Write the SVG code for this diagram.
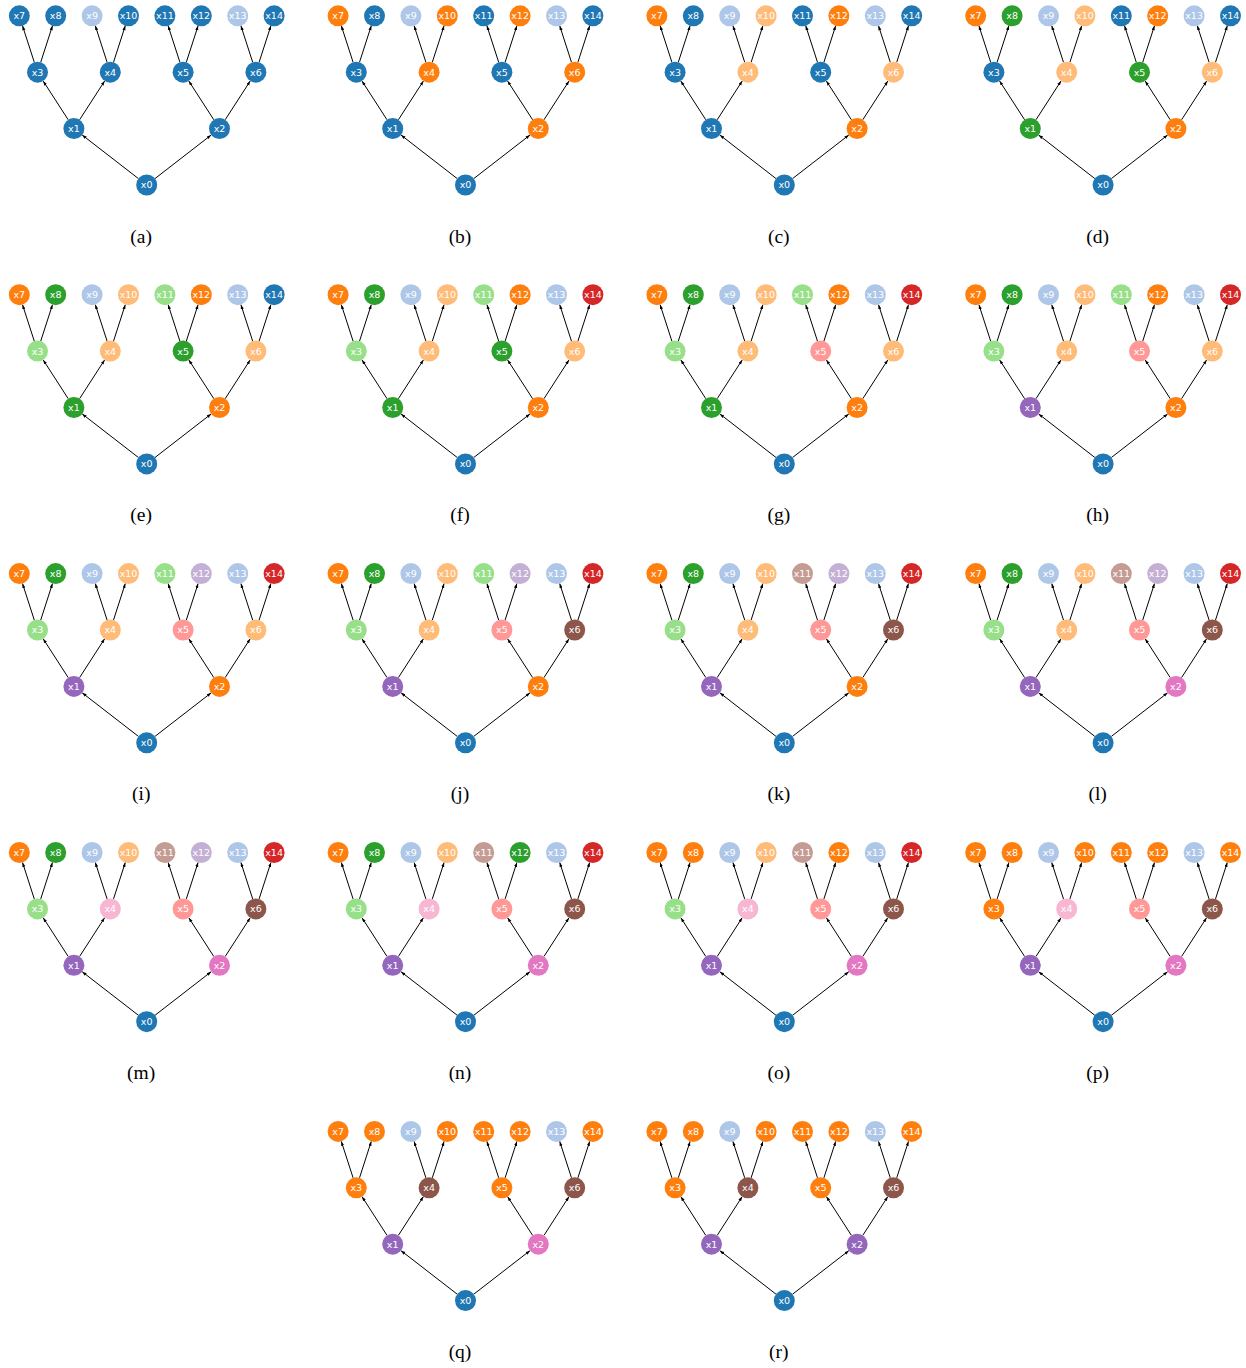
<svg xmlns="http://www.w3.org/2000/svg" width="1246" height="1368" viewBox="0 0 1246 1368">
<style>
.edges line{stroke:#000;stroke-width:1;marker-end:url(#ah)}
.nd circle{stroke:none}
.nd text{fill:#fff;font-family:"DejaVu Sans",sans-serif;font-size:9.5px;text-anchor:middle}
.cap{font-family:"Liberation Serif",serif;font-size:19.5px;text-anchor:middle;fill:#000}
.B{fill:#1f77b4}.b{fill:#aec7e8}.O{fill:#ff7f0e}.o{fill:#ffbb78}.G{fill:#2ca02c}.g{fill:#98df8a}.R{fill:#d62728}.r{fill:#ff9896}.P{fill:#9467bd}.p{fill:#c5b0d5}.N{fill:#8c564b}.n{fill:#c49c94}.K{fill:#e377c2}.k{fill:#f7b6d2}
</style>
<defs>
<marker id="ah" markerWidth="6" markerHeight="5" refX="4.5" refY="1.6" orient="auto" markerUnits="userSpaceOnUse"><path d="M0,0 L4.5,1.6 L0,3.2 z" fill="#000"/></marker>
</defs>
<rect width="1246" height="1368" fill="#fff"/>

<g id="panel-a" transform="translate(146.7,185)">
<g id="a-edges" class="edges">
<line x1="-8.3" y1="-6.43" x2="-64.5" y2="-49.97"/><line x1="8.3" y1="-6.43" x2="64.5" y2="-49.97"/>
<line x1="-78.49" y1="-65.22" x2="-103.51" y2="-103.98"/><line x1="-67.11" y1="-65.22" x2="-42.09" y2="-103.98"/>
<line x1="67.11" y1="-65.22" x2="42.09" y2="-103.98"/><line x1="78.49" y1="-65.22" x2="103.51" y2="-103.98"/>
<line x1="-112.42" y1="-122.79" x2="-124.18" y2="-159.21"/><line x1="-105.98" y1="-122.79" x2="-94.22" y2="-159.21"/>
<line x1="-39.62" y1="-122.79" x2="-51.38" y2="-159.21"/><line x1="-33.18" y1="-122.79" x2="-21.42" y2="-159.21"/>
<line x1="33.18" y1="-122.79" x2="21.42" y2="-159.21"/><line x1="39.62" y1="-122.79" x2="51.38" y2="-159.21"/>
<line x1="105.98" y1="-122.79" x2="94.22" y2="-159.21"/><line x1="112.42" y1="-122.79" x2="124.18" y2="-159.21"/>
</g>
<g class="nd">
<g id="a-x0" class="B" transform="translate(0,0)"><circle r="10.5"/><text y="3.4">x0</text></g>
<g id="a-x1" class="B" transform="translate(-72.8,-56.4)"><circle r="10.5"/><text y="3.4">x1</text></g>
<g id="a-x2" class="B" transform="translate(72.8,-56.4)"><circle r="10.5"/><text y="3.4">x2</text></g>
<g id="a-x3" class="B" transform="translate(-109.2,-112.8)"><circle r="10.5"/><text y="3.4">x3</text></g>
<g id="a-x4" class="B" transform="translate(-36.4,-112.8)"><circle r="10.5"/><text y="3.4">x4</text></g>
<g id="a-x5" class="B" transform="translate(36.4,-112.8)"><circle r="10.5"/><text y="3.4">x5</text></g>
<g id="a-x6" class="B" transform="translate(109.2,-112.8)"><circle r="10.5"/><text y="3.4">x6</text></g>
<g id="a-x7" class="B" transform="translate(-127.4,-169.2)"><circle r="10.5"/><text y="3.4">x7</text></g>
<g id="a-x8" class="B" transform="translate(-91,-169.2)"><circle r="10.5"/><text y="3.4">x8</text></g>
<g id="a-x9" class="b" transform="translate(-54.6,-169.2)"><circle r="10.5"/><text y="3.4">x9</text></g>
<g id="a-x10" class="B" transform="translate(-18.2,-169.2)"><circle r="10.5"/><text y="3.4">x10</text></g>
<g id="a-x11" class="B" transform="translate(18.2,-169.2)"><circle r="10.5"/><text y="3.4">x11</text></g>
<g id="a-x12" class="B" transform="translate(54.6,-169.2)"><circle r="10.5"/><text y="3.4">x12</text></g>
<g id="a-x13" class="b" transform="translate(91,-169.2)"><circle r="10.5"/><text y="3.4">x13</text></g>
<g id="a-x14" class="B" transform="translate(127.4,-169.2)"><circle r="10.5"/><text y="3.4">x14</text></g>
</g>
<text class="cap" x="-5.5" y="57.5">(a)</text>
</g>

<g id="panel-b" transform="translate(465.5,185)">
<g id="b-edges" class="edges">
<line x1="-8.3" y1="-6.43" x2="-64.5" y2="-49.97"/><line x1="8.3" y1="-6.43" x2="64.5" y2="-49.97"/>
<line x1="-78.49" y1="-65.22" x2="-103.51" y2="-103.98"/><line x1="-67.11" y1="-65.22" x2="-42.09" y2="-103.98"/>
<line x1="67.11" y1="-65.22" x2="42.09" y2="-103.98"/><line x1="78.49" y1="-65.22" x2="103.51" y2="-103.98"/>
<line x1="-112.42" y1="-122.79" x2="-124.18" y2="-159.21"/><line x1="-105.98" y1="-122.79" x2="-94.22" y2="-159.21"/>
<line x1="-39.62" y1="-122.79" x2="-51.38" y2="-159.21"/><line x1="-33.18" y1="-122.79" x2="-21.42" y2="-159.21"/>
<line x1="33.18" y1="-122.79" x2="21.42" y2="-159.21"/><line x1="39.62" y1="-122.79" x2="51.38" y2="-159.21"/>
<line x1="105.98" y1="-122.79" x2="94.22" y2="-159.21"/><line x1="112.42" y1="-122.79" x2="124.18" y2="-159.21"/>
</g>
<g class="nd">
<g id="b-x0" class="B" transform="translate(0,0)"><circle r="10.5"/><text y="3.4">x0</text></g>
<g id="b-x1" class="B" transform="translate(-72.8,-56.4)"><circle r="10.5"/><text y="3.4">x1</text></g>
<g id="b-x2" class="O" transform="translate(72.8,-56.4)"><circle r="10.5"/><text y="3.4">x2</text></g>
<g id="b-x3" class="B" transform="translate(-109.2,-112.8)"><circle r="10.5"/><text y="3.4">x3</text></g>
<g id="b-x4" class="O" transform="translate(-36.4,-112.8)"><circle r="10.5"/><text y="3.4">x4</text></g>
<g id="b-x5" class="B" transform="translate(36.4,-112.8)"><circle r="10.5"/><text y="3.4">x5</text></g>
<g id="b-x6" class="O" transform="translate(109.2,-112.8)"><circle r="10.5"/><text y="3.4">x6</text></g>
<g id="b-x7" class="O" transform="translate(-127.4,-169.2)"><circle r="10.5"/><text y="3.4">x7</text></g>
<g id="b-x8" class="B" transform="translate(-91,-169.2)"><circle r="10.5"/><text y="3.4">x8</text></g>
<g id="b-x9" class="b" transform="translate(-54.6,-169.2)"><circle r="10.5"/><text y="3.4">x9</text></g>
<g id="b-x10" class="O" transform="translate(-18.2,-169.2)"><circle r="10.5"/><text y="3.4">x10</text></g>
<g id="b-x11" class="B" transform="translate(18.2,-169.2)"><circle r="10.5"/><text y="3.4">x11</text></g>
<g id="b-x12" class="O" transform="translate(54.6,-169.2)"><circle r="10.5"/><text y="3.4">x12</text></g>
<g id="b-x13" class="b" transform="translate(91,-169.2)"><circle r="10.5"/><text y="3.4">x13</text></g>
<g id="b-x14" class="B" transform="translate(127.4,-169.2)"><circle r="10.5"/><text y="3.4">x14</text></g>
</g>
<text class="cap" x="-5.5" y="57.5">(b)</text>
</g>

<g id="panel-c" transform="translate(784.3,185)">
<g id="c-edges" class="edges">
<line x1="-8.3" y1="-6.43" x2="-64.5" y2="-49.97"/><line x1="8.3" y1="-6.43" x2="64.5" y2="-49.97"/>
<line x1="-78.49" y1="-65.22" x2="-103.51" y2="-103.98"/><line x1="-67.11" y1="-65.22" x2="-42.09" y2="-103.98"/>
<line x1="67.11" y1="-65.22" x2="42.09" y2="-103.98"/><line x1="78.49" y1="-65.22" x2="103.51" y2="-103.98"/>
<line x1="-112.42" y1="-122.79" x2="-124.18" y2="-159.21"/><line x1="-105.98" y1="-122.79" x2="-94.22" y2="-159.21"/>
<line x1="-39.62" y1="-122.79" x2="-51.38" y2="-159.21"/><line x1="-33.18" y1="-122.79" x2="-21.42" y2="-159.21"/>
<line x1="33.18" y1="-122.79" x2="21.42" y2="-159.21"/><line x1="39.62" y1="-122.79" x2="51.38" y2="-159.21"/>
<line x1="105.98" y1="-122.79" x2="94.22" y2="-159.21"/><line x1="112.42" y1="-122.79" x2="124.18" y2="-159.21"/>
</g>
<g class="nd">
<g id="c-x0" class="B" transform="translate(0,0)"><circle r="10.5"/><text y="3.4">x0</text></g>
<g id="c-x1" class="B" transform="translate(-72.8,-56.4)"><circle r="10.5"/><text y="3.4">x1</text></g>
<g id="c-x2" class="O" transform="translate(72.8,-56.4)"><circle r="10.5"/><text y="3.4">x2</text></g>
<g id="c-x3" class="B" transform="translate(-109.2,-112.8)"><circle r="10.5"/><text y="3.4">x3</text></g>
<g id="c-x4" class="o" transform="translate(-36.4,-112.8)"><circle r="10.5"/><text y="3.4">x4</text></g>
<g id="c-x5" class="B" transform="translate(36.4,-112.8)"><circle r="10.5"/><text y="3.4">x5</text></g>
<g id="c-x6" class="o" transform="translate(109.2,-112.8)"><circle r="10.5"/><text y="3.4">x6</text></g>
<g id="c-x7" class="O" transform="translate(-127.4,-169.2)"><circle r="10.5"/><text y="3.4">x7</text></g>
<g id="c-x8" class="B" transform="translate(-91,-169.2)"><circle r="10.5"/><text y="3.4">x8</text></g>
<g id="c-x9" class="b" transform="translate(-54.6,-169.2)"><circle r="10.5"/><text y="3.4">x9</text></g>
<g id="c-x10" class="o" transform="translate(-18.2,-169.2)"><circle r="10.5"/><text y="3.4">x10</text></g>
<g id="c-x11" class="B" transform="translate(18.2,-169.2)"><circle r="10.5"/><text y="3.4">x11</text></g>
<g id="c-x12" class="O" transform="translate(54.6,-169.2)"><circle r="10.5"/><text y="3.4">x12</text></g>
<g id="c-x13" class="b" transform="translate(91,-169.2)"><circle r="10.5"/><text y="3.4">x13</text></g>
<g id="c-x14" class="B" transform="translate(127.4,-169.2)"><circle r="10.5"/><text y="3.4">x14</text></g>
</g>
<text class="cap" x="-5.5" y="57.5">(c)</text>
</g>

<g id="panel-d" transform="translate(1103.1,185)">
<g id="d-edges" class="edges">
<line x1="-8.3" y1="-6.43" x2="-64.5" y2="-49.97"/><line x1="8.3" y1="-6.43" x2="64.5" y2="-49.97"/>
<line x1="-78.49" y1="-65.22" x2="-103.51" y2="-103.98"/><line x1="-67.11" y1="-65.22" x2="-42.09" y2="-103.98"/>
<line x1="67.11" y1="-65.22" x2="42.09" y2="-103.98"/><line x1="78.49" y1="-65.22" x2="103.51" y2="-103.98"/>
<line x1="-112.42" y1="-122.79" x2="-124.18" y2="-159.21"/><line x1="-105.98" y1="-122.79" x2="-94.22" y2="-159.21"/>
<line x1="-39.62" y1="-122.79" x2="-51.38" y2="-159.21"/><line x1="-33.18" y1="-122.79" x2="-21.42" y2="-159.21"/>
<line x1="33.18" y1="-122.79" x2="21.42" y2="-159.21"/><line x1="39.62" y1="-122.79" x2="51.38" y2="-159.21"/>
<line x1="105.98" y1="-122.79" x2="94.22" y2="-159.21"/><line x1="112.42" y1="-122.79" x2="124.18" y2="-159.21"/>
</g>
<g class="nd">
<g id="d-x0" class="B" transform="translate(0,0)"><circle r="10.5"/><text y="3.4">x0</text></g>
<g id="d-x1" class="G" transform="translate(-72.8,-56.4)"><circle r="10.5"/><text y="3.4">x1</text></g>
<g id="d-x2" class="O" transform="translate(72.8,-56.4)"><circle r="10.5"/><text y="3.4">x2</text></g>
<g id="d-x3" class="B" transform="translate(-109.2,-112.8)"><circle r="10.5"/><text y="3.4">x3</text></g>
<g id="d-x4" class="o" transform="translate(-36.4,-112.8)"><circle r="10.5"/><text y="3.4">x4</text></g>
<g id="d-x5" class="G" transform="translate(36.4,-112.8)"><circle r="10.5"/><text y="3.4">x5</text></g>
<g id="d-x6" class="o" transform="translate(109.2,-112.8)"><circle r="10.5"/><text y="3.4">x6</text></g>
<g id="d-x7" class="O" transform="translate(-127.4,-169.2)"><circle r="10.5"/><text y="3.4">x7</text></g>
<g id="d-x8" class="G" transform="translate(-91,-169.2)"><circle r="10.5"/><text y="3.4">x8</text></g>
<g id="d-x9" class="b" transform="translate(-54.6,-169.2)"><circle r="10.5"/><text y="3.4">x9</text></g>
<g id="d-x10" class="o" transform="translate(-18.2,-169.2)"><circle r="10.5"/><text y="3.4">x10</text></g>
<g id="d-x11" class="B" transform="translate(18.2,-169.2)"><circle r="10.5"/><text y="3.4">x11</text></g>
<g id="d-x12" class="O" transform="translate(54.6,-169.2)"><circle r="10.5"/><text y="3.4">x12</text></g>
<g id="d-x13" class="b" transform="translate(91,-169.2)"><circle r="10.5"/><text y="3.4">x13</text></g>
<g id="d-x14" class="B" transform="translate(127.4,-169.2)"><circle r="10.5"/><text y="3.4">x14</text></g>
</g>
<text class="cap" x="-5.5" y="57.5">(d)</text>
</g>

<g id="panel-e" transform="translate(146.7,463.9)">
<g id="e-edges" class="edges">
<line x1="-8.3" y1="-6.43" x2="-64.5" y2="-49.97"/><line x1="8.3" y1="-6.43" x2="64.5" y2="-49.97"/>
<line x1="-78.49" y1="-65.22" x2="-103.51" y2="-103.98"/><line x1="-67.11" y1="-65.22" x2="-42.09" y2="-103.98"/>
<line x1="67.11" y1="-65.22" x2="42.09" y2="-103.98"/><line x1="78.49" y1="-65.22" x2="103.51" y2="-103.98"/>
<line x1="-112.42" y1="-122.79" x2="-124.18" y2="-159.21"/><line x1="-105.98" y1="-122.79" x2="-94.22" y2="-159.21"/>
<line x1="-39.62" y1="-122.79" x2="-51.38" y2="-159.21"/><line x1="-33.18" y1="-122.79" x2="-21.42" y2="-159.21"/>
<line x1="33.18" y1="-122.79" x2="21.42" y2="-159.21"/><line x1="39.62" y1="-122.79" x2="51.38" y2="-159.21"/>
<line x1="105.98" y1="-122.79" x2="94.22" y2="-159.21"/><line x1="112.42" y1="-122.79" x2="124.18" y2="-159.21"/>
</g>
<g class="nd">
<g id="e-x0" class="B" transform="translate(0,0)"><circle r="10.5"/><text y="3.4">x0</text></g>
<g id="e-x1" class="G" transform="translate(-72.8,-56.4)"><circle r="10.5"/><text y="3.4">x1</text></g>
<g id="e-x2" class="O" transform="translate(72.8,-56.4)"><circle r="10.5"/><text y="3.4">x2</text></g>
<g id="e-x3" class="g" transform="translate(-109.2,-112.8)"><circle r="10.5"/><text y="3.4">x3</text></g>
<g id="e-x4" class="o" transform="translate(-36.4,-112.8)"><circle r="10.5"/><text y="3.4">x4</text></g>
<g id="e-x5" class="G" transform="translate(36.4,-112.8)"><circle r="10.5"/><text y="3.4">x5</text></g>
<g id="e-x6" class="o" transform="translate(109.2,-112.8)"><circle r="10.5"/><text y="3.4">x6</text></g>
<g id="e-x7" class="O" transform="translate(-127.4,-169.2)"><circle r="10.5"/><text y="3.4">x7</text></g>
<g id="e-x8" class="G" transform="translate(-91,-169.2)"><circle r="10.5"/><text y="3.4">x8</text></g>
<g id="e-x9" class="b" transform="translate(-54.6,-169.2)"><circle r="10.5"/><text y="3.4">x9</text></g>
<g id="e-x10" class="o" transform="translate(-18.2,-169.2)"><circle r="10.5"/><text y="3.4">x10</text></g>
<g id="e-x11" class="g" transform="translate(18.2,-169.2)"><circle r="10.5"/><text y="3.4">x11</text></g>
<g id="e-x12" class="O" transform="translate(54.6,-169.2)"><circle r="10.5"/><text y="3.4">x12</text></g>
<g id="e-x13" class="b" transform="translate(91,-169.2)"><circle r="10.5"/><text y="3.4">x13</text></g>
<g id="e-x14" class="B" transform="translate(127.4,-169.2)"><circle r="10.5"/><text y="3.4">x14</text></g>
</g>
<text class="cap" x="-5.5" y="57.5">(e)</text>
</g>

<g id="panel-f" transform="translate(465.5,463.9)">
<g id="f-edges" class="edges">
<line x1="-8.3" y1="-6.43" x2="-64.5" y2="-49.97"/><line x1="8.3" y1="-6.43" x2="64.5" y2="-49.97"/>
<line x1="-78.49" y1="-65.22" x2="-103.51" y2="-103.98"/><line x1="-67.11" y1="-65.22" x2="-42.09" y2="-103.98"/>
<line x1="67.11" y1="-65.22" x2="42.09" y2="-103.98"/><line x1="78.49" y1="-65.22" x2="103.51" y2="-103.98"/>
<line x1="-112.42" y1="-122.79" x2="-124.18" y2="-159.21"/><line x1="-105.98" y1="-122.79" x2="-94.22" y2="-159.21"/>
<line x1="-39.62" y1="-122.79" x2="-51.38" y2="-159.21"/><line x1="-33.18" y1="-122.79" x2="-21.42" y2="-159.21"/>
<line x1="33.18" y1="-122.79" x2="21.42" y2="-159.21"/><line x1="39.62" y1="-122.79" x2="51.38" y2="-159.21"/>
<line x1="105.98" y1="-122.79" x2="94.22" y2="-159.21"/><line x1="112.42" y1="-122.79" x2="124.18" y2="-159.21"/>
</g>
<g class="nd">
<g id="f-x0" class="B" transform="translate(0,0)"><circle r="10.5"/><text y="3.4">x0</text></g>
<g id="f-x1" class="G" transform="translate(-72.8,-56.4)"><circle r="10.5"/><text y="3.4">x1</text></g>
<g id="f-x2" class="O" transform="translate(72.8,-56.4)"><circle r="10.5"/><text y="3.4">x2</text></g>
<g id="f-x3" class="g" transform="translate(-109.2,-112.8)"><circle r="10.5"/><text y="3.4">x3</text></g>
<g id="f-x4" class="o" transform="translate(-36.4,-112.8)"><circle r="10.5"/><text y="3.4">x4</text></g>
<g id="f-x5" class="G" transform="translate(36.4,-112.8)"><circle r="10.5"/><text y="3.4">x5</text></g>
<g id="f-x6" class="o" transform="translate(109.2,-112.8)"><circle r="10.5"/><text y="3.4">x6</text></g>
<g id="f-x7" class="O" transform="translate(-127.4,-169.2)"><circle r="10.5"/><text y="3.4">x7</text></g>
<g id="f-x8" class="G" transform="translate(-91,-169.2)"><circle r="10.5"/><text y="3.4">x8</text></g>
<g id="f-x9" class="b" transform="translate(-54.6,-169.2)"><circle r="10.5"/><text y="3.4">x9</text></g>
<g id="f-x10" class="o" transform="translate(-18.2,-169.2)"><circle r="10.5"/><text y="3.4">x10</text></g>
<g id="f-x11" class="g" transform="translate(18.2,-169.2)"><circle r="10.5"/><text y="3.4">x11</text></g>
<g id="f-x12" class="O" transform="translate(54.6,-169.2)"><circle r="10.5"/><text y="3.4">x12</text></g>
<g id="f-x13" class="b" transform="translate(91,-169.2)"><circle r="10.5"/><text y="3.4">x13</text></g>
<g id="f-x14" class="R" transform="translate(127.4,-169.2)"><circle r="10.5"/><text y="3.4">x14</text></g>
</g>
<text class="cap" x="-5.5" y="57.5">(f)</text>
</g>

<g id="panel-g" transform="translate(784.3,463.9)">
<g id="g-edges" class="edges">
<line x1="-8.3" y1="-6.43" x2="-64.5" y2="-49.97"/><line x1="8.3" y1="-6.43" x2="64.5" y2="-49.97"/>
<line x1="-78.49" y1="-65.22" x2="-103.51" y2="-103.98"/><line x1="-67.11" y1="-65.22" x2="-42.09" y2="-103.98"/>
<line x1="67.11" y1="-65.22" x2="42.09" y2="-103.98"/><line x1="78.49" y1="-65.22" x2="103.51" y2="-103.98"/>
<line x1="-112.42" y1="-122.79" x2="-124.18" y2="-159.21"/><line x1="-105.98" y1="-122.79" x2="-94.22" y2="-159.21"/>
<line x1="-39.62" y1="-122.79" x2="-51.38" y2="-159.21"/><line x1="-33.18" y1="-122.79" x2="-21.42" y2="-159.21"/>
<line x1="33.18" y1="-122.79" x2="21.42" y2="-159.21"/><line x1="39.62" y1="-122.79" x2="51.38" y2="-159.21"/>
<line x1="105.98" y1="-122.79" x2="94.22" y2="-159.21"/><line x1="112.42" y1="-122.79" x2="124.18" y2="-159.21"/>
</g>
<g class="nd">
<g id="g-x0" class="B" transform="translate(0,0)"><circle r="10.5"/><text y="3.4">x0</text></g>
<g id="g-x1" class="G" transform="translate(-72.8,-56.4)"><circle r="10.5"/><text y="3.4">x1</text></g>
<g id="g-x2" class="O" transform="translate(72.8,-56.4)"><circle r="10.5"/><text y="3.4">x2</text></g>
<g id="g-x3" class="g" transform="translate(-109.2,-112.8)"><circle r="10.5"/><text y="3.4">x3</text></g>
<g id="g-x4" class="o" transform="translate(-36.4,-112.8)"><circle r="10.5"/><text y="3.4">x4</text></g>
<g id="g-x5" class="r" transform="translate(36.4,-112.8)"><circle r="10.5"/><text y="3.4">x5</text></g>
<g id="g-x6" class="o" transform="translate(109.2,-112.8)"><circle r="10.5"/><text y="3.4">x6</text></g>
<g id="g-x7" class="O" transform="translate(-127.4,-169.2)"><circle r="10.5"/><text y="3.4">x7</text></g>
<g id="g-x8" class="G" transform="translate(-91,-169.2)"><circle r="10.5"/><text y="3.4">x8</text></g>
<g id="g-x9" class="b" transform="translate(-54.6,-169.2)"><circle r="10.5"/><text y="3.4">x9</text></g>
<g id="g-x10" class="o" transform="translate(-18.2,-169.2)"><circle r="10.5"/><text y="3.4">x10</text></g>
<g id="g-x11" class="g" transform="translate(18.2,-169.2)"><circle r="10.5"/><text y="3.4">x11</text></g>
<g id="g-x12" class="O" transform="translate(54.6,-169.2)"><circle r="10.5"/><text y="3.4">x12</text></g>
<g id="g-x13" class="b" transform="translate(91,-169.2)"><circle r="10.5"/><text y="3.4">x13</text></g>
<g id="g-x14" class="R" transform="translate(127.4,-169.2)"><circle r="10.5"/><text y="3.4">x14</text></g>
</g>
<text class="cap" x="-5.5" y="57.5">(g)</text>
</g>

<g id="panel-h" transform="translate(1103.1,463.9)">
<g id="h-edges" class="edges">
<line x1="-8.3" y1="-6.43" x2="-64.5" y2="-49.97"/><line x1="8.3" y1="-6.43" x2="64.5" y2="-49.97"/>
<line x1="-78.49" y1="-65.22" x2="-103.51" y2="-103.98"/><line x1="-67.11" y1="-65.22" x2="-42.09" y2="-103.98"/>
<line x1="67.11" y1="-65.22" x2="42.09" y2="-103.98"/><line x1="78.49" y1="-65.22" x2="103.51" y2="-103.98"/>
<line x1="-112.42" y1="-122.79" x2="-124.18" y2="-159.21"/><line x1="-105.98" y1="-122.79" x2="-94.22" y2="-159.21"/>
<line x1="-39.62" y1="-122.79" x2="-51.38" y2="-159.21"/><line x1="-33.18" y1="-122.79" x2="-21.42" y2="-159.21"/>
<line x1="33.18" y1="-122.79" x2="21.42" y2="-159.21"/><line x1="39.62" y1="-122.79" x2="51.38" y2="-159.21"/>
<line x1="105.98" y1="-122.79" x2="94.22" y2="-159.21"/><line x1="112.42" y1="-122.79" x2="124.18" y2="-159.21"/>
</g>
<g class="nd">
<g id="h-x0" class="B" transform="translate(0,0)"><circle r="10.5"/><text y="3.4">x0</text></g>
<g id="h-x1" class="P" transform="translate(-72.8,-56.4)"><circle r="10.5"/><text y="3.4">x1</text></g>
<g id="h-x2" class="O" transform="translate(72.8,-56.4)"><circle r="10.5"/><text y="3.4">x2</text></g>
<g id="h-x3" class="g" transform="translate(-109.2,-112.8)"><circle r="10.5"/><text y="3.4">x3</text></g>
<g id="h-x4" class="o" transform="translate(-36.4,-112.8)"><circle r="10.5"/><text y="3.4">x4</text></g>
<g id="h-x5" class="r" transform="translate(36.4,-112.8)"><circle r="10.5"/><text y="3.4">x5</text></g>
<g id="h-x6" class="o" transform="translate(109.2,-112.8)"><circle r="10.5"/><text y="3.4">x6</text></g>
<g id="h-x7" class="O" transform="translate(-127.4,-169.2)"><circle r="10.5"/><text y="3.4">x7</text></g>
<g id="h-x8" class="G" transform="translate(-91,-169.2)"><circle r="10.5"/><text y="3.4">x8</text></g>
<g id="h-x9" class="b" transform="translate(-54.6,-169.2)"><circle r="10.5"/><text y="3.4">x9</text></g>
<g id="h-x10" class="o" transform="translate(-18.2,-169.2)"><circle r="10.5"/><text y="3.4">x10</text></g>
<g id="h-x11" class="g" transform="translate(18.2,-169.2)"><circle r="10.5"/><text y="3.4">x11</text></g>
<g id="h-x12" class="O" transform="translate(54.6,-169.2)"><circle r="10.5"/><text y="3.4">x12</text></g>
<g id="h-x13" class="b" transform="translate(91,-169.2)"><circle r="10.5"/><text y="3.4">x13</text></g>
<g id="h-x14" class="R" transform="translate(127.4,-169.2)"><circle r="10.5"/><text y="3.4">x14</text></g>
</g>
<text class="cap" x="-5.5" y="57.5">(h)</text>
</g>

<g id="panel-i" transform="translate(146.7,742.8)">
<g id="i-edges" class="edges">
<line x1="-8.3" y1="-6.43" x2="-64.5" y2="-49.97"/><line x1="8.3" y1="-6.43" x2="64.5" y2="-49.97"/>
<line x1="-78.49" y1="-65.22" x2="-103.51" y2="-103.98"/><line x1="-67.11" y1="-65.22" x2="-42.09" y2="-103.98"/>
<line x1="67.11" y1="-65.22" x2="42.09" y2="-103.98"/><line x1="78.49" y1="-65.22" x2="103.51" y2="-103.98"/>
<line x1="-112.42" y1="-122.79" x2="-124.18" y2="-159.21"/><line x1="-105.98" y1="-122.79" x2="-94.22" y2="-159.21"/>
<line x1="-39.62" y1="-122.79" x2="-51.38" y2="-159.21"/><line x1="-33.18" y1="-122.79" x2="-21.42" y2="-159.21"/>
<line x1="33.18" y1="-122.79" x2="21.42" y2="-159.21"/><line x1="39.62" y1="-122.79" x2="51.38" y2="-159.21"/>
<line x1="105.98" y1="-122.79" x2="94.22" y2="-159.21"/><line x1="112.42" y1="-122.79" x2="124.18" y2="-159.21"/>
</g>
<g class="nd">
<g id="i-x0" class="B" transform="translate(0,0)"><circle r="10.5"/><text y="3.4">x0</text></g>
<g id="i-x1" class="P" transform="translate(-72.8,-56.4)"><circle r="10.5"/><text y="3.4">x1</text></g>
<g id="i-x2" class="O" transform="translate(72.8,-56.4)"><circle r="10.5"/><text y="3.4">x2</text></g>
<g id="i-x3" class="g" transform="translate(-109.2,-112.8)"><circle r="10.5"/><text y="3.4">x3</text></g>
<g id="i-x4" class="o" transform="translate(-36.4,-112.8)"><circle r="10.5"/><text y="3.4">x4</text></g>
<g id="i-x5" class="r" transform="translate(36.4,-112.8)"><circle r="10.5"/><text y="3.4">x5</text></g>
<g id="i-x6" class="o" transform="translate(109.2,-112.8)"><circle r="10.5"/><text y="3.4">x6</text></g>
<g id="i-x7" class="O" transform="translate(-127.4,-169.2)"><circle r="10.5"/><text y="3.4">x7</text></g>
<g id="i-x8" class="G" transform="translate(-91,-169.2)"><circle r="10.5"/><text y="3.4">x8</text></g>
<g id="i-x9" class="b" transform="translate(-54.6,-169.2)"><circle r="10.5"/><text y="3.4">x9</text></g>
<g id="i-x10" class="o" transform="translate(-18.2,-169.2)"><circle r="10.5"/><text y="3.4">x10</text></g>
<g id="i-x11" class="g" transform="translate(18.2,-169.2)"><circle r="10.5"/><text y="3.4">x11</text></g>
<g id="i-x12" class="p" transform="translate(54.6,-169.2)"><circle r="10.5"/><text y="3.4">x12</text></g>
<g id="i-x13" class="b" transform="translate(91,-169.2)"><circle r="10.5"/><text y="3.4">x13</text></g>
<g id="i-x14" class="R" transform="translate(127.4,-169.2)"><circle r="10.5"/><text y="3.4">x14</text></g>
</g>
<text class="cap" x="-5.5" y="57.5">(i)</text>
</g>

<g id="panel-j" transform="translate(465.5,742.8)">
<g id="j-edges" class="edges">
<line x1="-8.3" y1="-6.43" x2="-64.5" y2="-49.97"/><line x1="8.3" y1="-6.43" x2="64.5" y2="-49.97"/>
<line x1="-78.49" y1="-65.22" x2="-103.51" y2="-103.98"/><line x1="-67.11" y1="-65.22" x2="-42.09" y2="-103.98"/>
<line x1="67.11" y1="-65.22" x2="42.09" y2="-103.98"/><line x1="78.49" y1="-65.22" x2="103.51" y2="-103.98"/>
<line x1="-112.42" y1="-122.79" x2="-124.18" y2="-159.21"/><line x1="-105.98" y1="-122.79" x2="-94.22" y2="-159.21"/>
<line x1="-39.62" y1="-122.79" x2="-51.38" y2="-159.21"/><line x1="-33.18" y1="-122.79" x2="-21.42" y2="-159.21"/>
<line x1="33.18" y1="-122.79" x2="21.42" y2="-159.21"/><line x1="39.62" y1="-122.79" x2="51.38" y2="-159.21"/>
<line x1="105.98" y1="-122.79" x2="94.22" y2="-159.21"/><line x1="112.42" y1="-122.79" x2="124.18" y2="-159.21"/>
</g>
<g class="nd">
<g id="j-x0" class="B" transform="translate(0,0)"><circle r="10.5"/><text y="3.4">x0</text></g>
<g id="j-x1" class="P" transform="translate(-72.8,-56.4)"><circle r="10.5"/><text y="3.4">x1</text></g>
<g id="j-x2" class="O" transform="translate(72.8,-56.4)"><circle r="10.5"/><text y="3.4">x2</text></g>
<g id="j-x3" class="g" transform="translate(-109.2,-112.8)"><circle r="10.5"/><text y="3.4">x3</text></g>
<g id="j-x4" class="o" transform="translate(-36.4,-112.8)"><circle r="10.5"/><text y="3.4">x4</text></g>
<g id="j-x5" class="r" transform="translate(36.4,-112.8)"><circle r="10.5"/><text y="3.4">x5</text></g>
<g id="j-x6" class="N" transform="translate(109.2,-112.8)"><circle r="10.5"/><text y="3.4">x6</text></g>
<g id="j-x7" class="O" transform="translate(-127.4,-169.2)"><circle r="10.5"/><text y="3.4">x7</text></g>
<g id="j-x8" class="G" transform="translate(-91,-169.2)"><circle r="10.5"/><text y="3.4">x8</text></g>
<g id="j-x9" class="b" transform="translate(-54.6,-169.2)"><circle r="10.5"/><text y="3.4">x9</text></g>
<g id="j-x10" class="o" transform="translate(-18.2,-169.2)"><circle r="10.5"/><text y="3.4">x10</text></g>
<g id="j-x11" class="g" transform="translate(18.2,-169.2)"><circle r="10.5"/><text y="3.4">x11</text></g>
<g id="j-x12" class="p" transform="translate(54.6,-169.2)"><circle r="10.5"/><text y="3.4">x12</text></g>
<g id="j-x13" class="b" transform="translate(91,-169.2)"><circle r="10.5"/><text y="3.4">x13</text></g>
<g id="j-x14" class="R" transform="translate(127.4,-169.2)"><circle r="10.5"/><text y="3.4">x14</text></g>
</g>
<text class="cap" x="-5.5" y="57.5">(j)</text>
</g>

<g id="panel-k" transform="translate(784.3,742.8)">
<g id="k-edges" class="edges">
<line x1="-8.3" y1="-6.43" x2="-64.5" y2="-49.97"/><line x1="8.3" y1="-6.43" x2="64.5" y2="-49.97"/>
<line x1="-78.49" y1="-65.22" x2="-103.51" y2="-103.98"/><line x1="-67.11" y1="-65.22" x2="-42.09" y2="-103.98"/>
<line x1="67.11" y1="-65.22" x2="42.09" y2="-103.98"/><line x1="78.49" y1="-65.22" x2="103.51" y2="-103.98"/>
<line x1="-112.42" y1="-122.79" x2="-124.18" y2="-159.21"/><line x1="-105.98" y1="-122.79" x2="-94.22" y2="-159.21"/>
<line x1="-39.62" y1="-122.79" x2="-51.38" y2="-159.21"/><line x1="-33.18" y1="-122.79" x2="-21.42" y2="-159.21"/>
<line x1="33.18" y1="-122.79" x2="21.42" y2="-159.21"/><line x1="39.62" y1="-122.79" x2="51.38" y2="-159.21"/>
<line x1="105.98" y1="-122.79" x2="94.22" y2="-159.21"/><line x1="112.42" y1="-122.79" x2="124.18" y2="-159.21"/>
</g>
<g class="nd">
<g id="k-x0" class="B" transform="translate(0,0)"><circle r="10.5"/><text y="3.4">x0</text></g>
<g id="k-x1" class="P" transform="translate(-72.8,-56.4)"><circle r="10.5"/><text y="3.4">x1</text></g>
<g id="k-x2" class="O" transform="translate(72.8,-56.4)"><circle r="10.5"/><text y="3.4">x2</text></g>
<g id="k-x3" class="g" transform="translate(-109.2,-112.8)"><circle r="10.5"/><text y="3.4">x3</text></g>
<g id="k-x4" class="o" transform="translate(-36.4,-112.8)"><circle r="10.5"/><text y="3.4">x4</text></g>
<g id="k-x5" class="r" transform="translate(36.4,-112.8)"><circle r="10.5"/><text y="3.4">x5</text></g>
<g id="k-x6" class="N" transform="translate(109.2,-112.8)"><circle r="10.5"/><text y="3.4">x6</text></g>
<g id="k-x7" class="O" transform="translate(-127.4,-169.2)"><circle r="10.5"/><text y="3.4">x7</text></g>
<g id="k-x8" class="G" transform="translate(-91,-169.2)"><circle r="10.5"/><text y="3.4">x8</text></g>
<g id="k-x9" class="b" transform="translate(-54.6,-169.2)"><circle r="10.5"/><text y="3.4">x9</text></g>
<g id="k-x10" class="o" transform="translate(-18.2,-169.2)"><circle r="10.5"/><text y="3.4">x10</text></g>
<g id="k-x11" class="n" transform="translate(18.2,-169.2)"><circle r="10.5"/><text y="3.4">x11</text></g>
<g id="k-x12" class="p" transform="translate(54.6,-169.2)"><circle r="10.5"/><text y="3.4">x12</text></g>
<g id="k-x13" class="b" transform="translate(91,-169.2)"><circle r="10.5"/><text y="3.4">x13</text></g>
<g id="k-x14" class="R" transform="translate(127.4,-169.2)"><circle r="10.5"/><text y="3.4">x14</text></g>
</g>
<text class="cap" x="-5.5" y="57.5">(k)</text>
</g>

<g id="panel-l" transform="translate(1103.1,742.8)">
<g id="l-edges" class="edges">
<line x1="-8.3" y1="-6.43" x2="-64.5" y2="-49.97"/><line x1="8.3" y1="-6.43" x2="64.5" y2="-49.97"/>
<line x1="-78.49" y1="-65.22" x2="-103.51" y2="-103.98"/><line x1="-67.11" y1="-65.22" x2="-42.09" y2="-103.98"/>
<line x1="67.11" y1="-65.22" x2="42.09" y2="-103.98"/><line x1="78.49" y1="-65.22" x2="103.51" y2="-103.98"/>
<line x1="-112.42" y1="-122.79" x2="-124.18" y2="-159.21"/><line x1="-105.98" y1="-122.79" x2="-94.22" y2="-159.21"/>
<line x1="-39.62" y1="-122.79" x2="-51.38" y2="-159.21"/><line x1="-33.18" y1="-122.79" x2="-21.42" y2="-159.21"/>
<line x1="33.18" y1="-122.79" x2="21.42" y2="-159.21"/><line x1="39.62" y1="-122.79" x2="51.38" y2="-159.21"/>
<line x1="105.98" y1="-122.79" x2="94.22" y2="-159.21"/><line x1="112.42" y1="-122.79" x2="124.18" y2="-159.21"/>
</g>
<g class="nd">
<g id="l-x0" class="B" transform="translate(0,0)"><circle r="10.5"/><text y="3.4">x0</text></g>
<g id="l-x1" class="P" transform="translate(-72.8,-56.4)"><circle r="10.5"/><text y="3.4">x1</text></g>
<g id="l-x2" class="K" transform="translate(72.8,-56.4)"><circle r="10.5"/><text y="3.4">x2</text></g>
<g id="l-x3" class="g" transform="translate(-109.2,-112.8)"><circle r="10.5"/><text y="3.4">x3</text></g>
<g id="l-x4" class="o" transform="translate(-36.4,-112.8)"><circle r="10.5"/><text y="3.4">x4</text></g>
<g id="l-x5" class="r" transform="translate(36.4,-112.8)"><circle r="10.5"/><text y="3.4">x5</text></g>
<g id="l-x6" class="N" transform="translate(109.2,-112.8)"><circle r="10.5"/><text y="3.4">x6</text></g>
<g id="l-x7" class="O" transform="translate(-127.4,-169.2)"><circle r="10.5"/><text y="3.4">x7</text></g>
<g id="l-x8" class="G" transform="translate(-91,-169.2)"><circle r="10.5"/><text y="3.4">x8</text></g>
<g id="l-x9" class="b" transform="translate(-54.6,-169.2)"><circle r="10.5"/><text y="3.4">x9</text></g>
<g id="l-x10" class="o" transform="translate(-18.2,-169.2)"><circle r="10.5"/><text y="3.4">x10</text></g>
<g id="l-x11" class="n" transform="translate(18.2,-169.2)"><circle r="10.5"/><text y="3.4">x11</text></g>
<g id="l-x12" class="p" transform="translate(54.6,-169.2)"><circle r="10.5"/><text y="3.4">x12</text></g>
<g id="l-x13" class="b" transform="translate(91,-169.2)"><circle r="10.5"/><text y="3.4">x13</text></g>
<g id="l-x14" class="R" transform="translate(127.4,-169.2)"><circle r="10.5"/><text y="3.4">x14</text></g>
</g>
<text class="cap" x="-5.5" y="57.5">(l)</text>
</g>

<g id="panel-m" transform="translate(146.7,1021.7)">
<g id="m-edges" class="edges">
<line x1="-8.3" y1="-6.43" x2="-64.5" y2="-49.97"/><line x1="8.3" y1="-6.43" x2="64.5" y2="-49.97"/>
<line x1="-78.49" y1="-65.22" x2="-103.51" y2="-103.98"/><line x1="-67.11" y1="-65.22" x2="-42.09" y2="-103.98"/>
<line x1="67.11" y1="-65.22" x2="42.09" y2="-103.98"/><line x1="78.49" y1="-65.22" x2="103.51" y2="-103.98"/>
<line x1="-112.42" y1="-122.79" x2="-124.18" y2="-159.21"/><line x1="-105.98" y1="-122.79" x2="-94.22" y2="-159.21"/>
<line x1="-39.62" y1="-122.79" x2="-51.38" y2="-159.21"/><line x1="-33.18" y1="-122.79" x2="-21.42" y2="-159.21"/>
<line x1="33.18" y1="-122.79" x2="21.42" y2="-159.21"/><line x1="39.62" y1="-122.79" x2="51.38" y2="-159.21"/>
<line x1="105.98" y1="-122.79" x2="94.22" y2="-159.21"/><line x1="112.42" y1="-122.79" x2="124.18" y2="-159.21"/>
</g>
<g class="nd">
<g id="m-x0" class="B" transform="translate(0,0)"><circle r="10.5"/><text y="3.4">x0</text></g>
<g id="m-x1" class="P" transform="translate(-72.8,-56.4)"><circle r="10.5"/><text y="3.4">x1</text></g>
<g id="m-x2" class="K" transform="translate(72.8,-56.4)"><circle r="10.5"/><text y="3.4">x2</text></g>
<g id="m-x3" class="g" transform="translate(-109.2,-112.8)"><circle r="10.5"/><text y="3.4">x3</text></g>
<g id="m-x4" class="k" transform="translate(-36.4,-112.8)"><circle r="10.5"/><text y="3.4">x4</text></g>
<g id="m-x5" class="r" transform="translate(36.4,-112.8)"><circle r="10.5"/><text y="3.4">x5</text></g>
<g id="m-x6" class="N" transform="translate(109.2,-112.8)"><circle r="10.5"/><text y="3.4">x6</text></g>
<g id="m-x7" class="O" transform="translate(-127.4,-169.2)"><circle r="10.5"/><text y="3.4">x7</text></g>
<g id="m-x8" class="G" transform="translate(-91,-169.2)"><circle r="10.5"/><text y="3.4">x8</text></g>
<g id="m-x9" class="b" transform="translate(-54.6,-169.2)"><circle r="10.5"/><text y="3.4">x9</text></g>
<g id="m-x10" class="o" transform="translate(-18.2,-169.2)"><circle r="10.5"/><text y="3.4">x10</text></g>
<g id="m-x11" class="n" transform="translate(18.2,-169.2)"><circle r="10.5"/><text y="3.4">x11</text></g>
<g id="m-x12" class="p" transform="translate(54.6,-169.2)"><circle r="10.5"/><text y="3.4">x12</text></g>
<g id="m-x13" class="b" transform="translate(91,-169.2)"><circle r="10.5"/><text y="3.4">x13</text></g>
<g id="m-x14" class="R" transform="translate(127.4,-169.2)"><circle r="10.5"/><text y="3.4">x14</text></g>
</g>
<text class="cap" x="-5.5" y="57.5">(m)</text>
</g>

<g id="panel-n" transform="translate(465.5,1021.7)">
<g id="n-edges" class="edges">
<line x1="-8.3" y1="-6.43" x2="-64.5" y2="-49.97"/><line x1="8.3" y1="-6.43" x2="64.5" y2="-49.97"/>
<line x1="-78.49" y1="-65.22" x2="-103.51" y2="-103.98"/><line x1="-67.11" y1="-65.22" x2="-42.09" y2="-103.98"/>
<line x1="67.11" y1="-65.22" x2="42.09" y2="-103.98"/><line x1="78.49" y1="-65.22" x2="103.51" y2="-103.98"/>
<line x1="-112.42" y1="-122.79" x2="-124.18" y2="-159.21"/><line x1="-105.98" y1="-122.79" x2="-94.22" y2="-159.21"/>
<line x1="-39.62" y1="-122.79" x2="-51.38" y2="-159.21"/><line x1="-33.18" y1="-122.79" x2="-21.42" y2="-159.21"/>
<line x1="33.18" y1="-122.79" x2="21.42" y2="-159.21"/><line x1="39.62" y1="-122.79" x2="51.38" y2="-159.21"/>
<line x1="105.98" y1="-122.79" x2="94.22" y2="-159.21"/><line x1="112.42" y1="-122.79" x2="124.18" y2="-159.21"/>
</g>
<g class="nd">
<g id="n-x0" class="B" transform="translate(0,0)"><circle r="10.5"/><text y="3.4">x0</text></g>
<g id="n-x1" class="P" transform="translate(-72.8,-56.4)"><circle r="10.5"/><text y="3.4">x1</text></g>
<g id="n-x2" class="K" transform="translate(72.8,-56.4)"><circle r="10.5"/><text y="3.4">x2</text></g>
<g id="n-x3" class="g" transform="translate(-109.2,-112.8)"><circle r="10.5"/><text y="3.4">x3</text></g>
<g id="n-x4" class="k" transform="translate(-36.4,-112.8)"><circle r="10.5"/><text y="3.4">x4</text></g>
<g id="n-x5" class="r" transform="translate(36.4,-112.8)"><circle r="10.5"/><text y="3.4">x5</text></g>
<g id="n-x6" class="N" transform="translate(109.2,-112.8)"><circle r="10.5"/><text y="3.4">x6</text></g>
<g id="n-x7" class="O" transform="translate(-127.4,-169.2)"><circle r="10.5"/><text y="3.4">x7</text></g>
<g id="n-x8" class="G" transform="translate(-91,-169.2)"><circle r="10.5"/><text y="3.4">x8</text></g>
<g id="n-x9" class="b" transform="translate(-54.6,-169.2)"><circle r="10.5"/><text y="3.4">x9</text></g>
<g id="n-x10" class="o" transform="translate(-18.2,-169.2)"><circle r="10.5"/><text y="3.4">x10</text></g>
<g id="n-x11" class="n" transform="translate(18.2,-169.2)"><circle r="10.5"/><text y="3.4">x11</text></g>
<g id="n-x12" class="G" transform="translate(54.6,-169.2)"><circle r="10.5"/><text y="3.4">x12</text></g>
<g id="n-x13" class="b" transform="translate(91,-169.2)"><circle r="10.5"/><text y="3.4">x13</text></g>
<g id="n-x14" class="R" transform="translate(127.4,-169.2)"><circle r="10.5"/><text y="3.4">x14</text></g>
</g>
<text class="cap" x="-5.5" y="57.5">(n)</text>
</g>

<g id="panel-o" transform="translate(784.3,1021.7)">
<g id="o-edges" class="edges">
<line x1="-8.3" y1="-6.43" x2="-64.5" y2="-49.97"/><line x1="8.3" y1="-6.43" x2="64.5" y2="-49.97"/>
<line x1="-78.49" y1="-65.22" x2="-103.51" y2="-103.98"/><line x1="-67.11" y1="-65.22" x2="-42.09" y2="-103.98"/>
<line x1="67.11" y1="-65.22" x2="42.09" y2="-103.98"/><line x1="78.49" y1="-65.22" x2="103.51" y2="-103.98"/>
<line x1="-112.42" y1="-122.79" x2="-124.18" y2="-159.21"/><line x1="-105.98" y1="-122.79" x2="-94.22" y2="-159.21"/>
<line x1="-39.62" y1="-122.79" x2="-51.38" y2="-159.21"/><line x1="-33.18" y1="-122.79" x2="-21.42" y2="-159.21"/>
<line x1="33.18" y1="-122.79" x2="21.42" y2="-159.21"/><line x1="39.62" y1="-122.79" x2="51.38" y2="-159.21"/>
<line x1="105.98" y1="-122.79" x2="94.22" y2="-159.21"/><line x1="112.42" y1="-122.79" x2="124.18" y2="-159.21"/>
</g>
<g class="nd">
<g id="o-x0" class="B" transform="translate(0,0)"><circle r="10.5"/><text y="3.4">x0</text></g>
<g id="o-x1" class="P" transform="translate(-72.8,-56.4)"><circle r="10.5"/><text y="3.4">x1</text></g>
<g id="o-x2" class="K" transform="translate(72.8,-56.4)"><circle r="10.5"/><text y="3.4">x2</text></g>
<g id="o-x3" class="g" transform="translate(-109.2,-112.8)"><circle r="10.5"/><text y="3.4">x3</text></g>
<g id="o-x4" class="k" transform="translate(-36.4,-112.8)"><circle r="10.5"/><text y="3.4">x4</text></g>
<g id="o-x5" class="r" transform="translate(36.4,-112.8)"><circle r="10.5"/><text y="3.4">x5</text></g>
<g id="o-x6" class="N" transform="translate(109.2,-112.8)"><circle r="10.5"/><text y="3.4">x6</text></g>
<g id="o-x7" class="O" transform="translate(-127.4,-169.2)"><circle r="10.5"/><text y="3.4">x7</text></g>
<g id="o-x8" class="O" transform="translate(-91,-169.2)"><circle r="10.5"/><text y="3.4">x8</text></g>
<g id="o-x9" class="b" transform="translate(-54.6,-169.2)"><circle r="10.5"/><text y="3.4">x9</text></g>
<g id="o-x10" class="o" transform="translate(-18.2,-169.2)"><circle r="10.5"/><text y="3.4">x10</text></g>
<g id="o-x11" class="n" transform="translate(18.2,-169.2)"><circle r="10.5"/><text y="3.4">x11</text></g>
<g id="o-x12" class="O" transform="translate(54.6,-169.2)"><circle r="10.5"/><text y="3.4">x12</text></g>
<g id="o-x13" class="b" transform="translate(91,-169.2)"><circle r="10.5"/><text y="3.4">x13</text></g>
<g id="o-x14" class="R" transform="translate(127.4,-169.2)"><circle r="10.5"/><text y="3.4">x14</text></g>
</g>
<text class="cap" x="-5.5" y="57.5">(o)</text>
</g>

<g id="panel-p" transform="translate(1103.1,1021.7)">
<g id="p-edges" class="edges">
<line x1="-8.3" y1="-6.43" x2="-64.5" y2="-49.97"/><line x1="8.3" y1="-6.43" x2="64.5" y2="-49.97"/>
<line x1="-78.49" y1="-65.22" x2="-103.51" y2="-103.98"/><line x1="-67.11" y1="-65.22" x2="-42.09" y2="-103.98"/>
<line x1="67.11" y1="-65.22" x2="42.09" y2="-103.98"/><line x1="78.49" y1="-65.22" x2="103.51" y2="-103.98"/>
<line x1="-112.42" y1="-122.79" x2="-124.18" y2="-159.21"/><line x1="-105.98" y1="-122.79" x2="-94.22" y2="-159.21"/>
<line x1="-39.62" y1="-122.79" x2="-51.38" y2="-159.21"/><line x1="-33.18" y1="-122.79" x2="-21.42" y2="-159.21"/>
<line x1="33.18" y1="-122.79" x2="21.42" y2="-159.21"/><line x1="39.62" y1="-122.79" x2="51.38" y2="-159.21"/>
<line x1="105.98" y1="-122.79" x2="94.22" y2="-159.21"/><line x1="112.42" y1="-122.79" x2="124.18" y2="-159.21"/>
</g>
<g class="nd">
<g id="p-x0" class="B" transform="translate(0,0)"><circle r="10.5"/><text y="3.4">x0</text></g>
<g id="p-x1" class="P" transform="translate(-72.8,-56.4)"><circle r="10.5"/><text y="3.4">x1</text></g>
<g id="p-x2" class="K" transform="translate(72.8,-56.4)"><circle r="10.5"/><text y="3.4">x2</text></g>
<g id="p-x3" class="O" transform="translate(-109.2,-112.8)"><circle r="10.5"/><text y="3.4">x3</text></g>
<g id="p-x4" class="k" transform="translate(-36.4,-112.8)"><circle r="10.5"/><text y="3.4">x4</text></g>
<g id="p-x5" class="r" transform="translate(36.4,-112.8)"><circle r="10.5"/><text y="3.4">x5</text></g>
<g id="p-x6" class="N" transform="translate(109.2,-112.8)"><circle r="10.5"/><text y="3.4">x6</text></g>
<g id="p-x7" class="O" transform="translate(-127.4,-169.2)"><circle r="10.5"/><text y="3.4">x7</text></g>
<g id="p-x8" class="O" transform="translate(-91,-169.2)"><circle r="10.5"/><text y="3.4">x8</text></g>
<g id="p-x9" class="b" transform="translate(-54.6,-169.2)"><circle r="10.5"/><text y="3.4">x9</text></g>
<g id="p-x10" class="O" transform="translate(-18.2,-169.2)"><circle r="10.5"/><text y="3.4">x10</text></g>
<g id="p-x11" class="O" transform="translate(18.2,-169.2)"><circle r="10.5"/><text y="3.4">x11</text></g>
<g id="p-x12" class="O" transform="translate(54.6,-169.2)"><circle r="10.5"/><text y="3.4">x12</text></g>
<g id="p-x13" class="b" transform="translate(91,-169.2)"><circle r="10.5"/><text y="3.4">x13</text></g>
<g id="p-x14" class="O" transform="translate(127.4,-169.2)"><circle r="10.5"/><text y="3.4">x14</text></g>
</g>
<text class="cap" x="-5.5" y="57.5">(p)</text>
</g>

<g id="panel-q" transform="translate(465.5,1300.6)">
<g id="q-edges" class="edges">
<line x1="-8.3" y1="-6.43" x2="-64.5" y2="-49.97"/><line x1="8.3" y1="-6.43" x2="64.5" y2="-49.97"/>
<line x1="-78.49" y1="-65.22" x2="-103.51" y2="-103.98"/><line x1="-67.11" y1="-65.22" x2="-42.09" y2="-103.98"/>
<line x1="67.11" y1="-65.22" x2="42.09" y2="-103.98"/><line x1="78.49" y1="-65.22" x2="103.51" y2="-103.98"/>
<line x1="-112.42" y1="-122.79" x2="-124.18" y2="-159.21"/><line x1="-105.98" y1="-122.79" x2="-94.22" y2="-159.21"/>
<line x1="-39.62" y1="-122.79" x2="-51.38" y2="-159.21"/><line x1="-33.18" y1="-122.79" x2="-21.42" y2="-159.21"/>
<line x1="33.18" y1="-122.79" x2="21.42" y2="-159.21"/><line x1="39.62" y1="-122.79" x2="51.38" y2="-159.21"/>
<line x1="105.98" y1="-122.79" x2="94.22" y2="-159.21"/><line x1="112.42" y1="-122.79" x2="124.18" y2="-159.21"/>
</g>
<g class="nd">
<g id="q-x0" class="B" transform="translate(0,0)"><circle r="10.5"/><text y="3.4">x0</text></g>
<g id="q-x1" class="P" transform="translate(-72.8,-56.4)"><circle r="10.5"/><text y="3.4">x1</text></g>
<g id="q-x2" class="K" transform="translate(72.8,-56.4)"><circle r="10.5"/><text y="3.4">x2</text></g>
<g id="q-x3" class="O" transform="translate(-109.2,-112.8)"><circle r="10.5"/><text y="3.4">x3</text></g>
<g id="q-x4" class="N" transform="translate(-36.4,-112.8)"><circle r="10.5"/><text y="3.4">x4</text></g>
<g id="q-x5" class="O" transform="translate(36.4,-112.8)"><circle r="10.5"/><text y="3.4">x5</text></g>
<g id="q-x6" class="N" transform="translate(109.2,-112.8)"><circle r="10.5"/><text y="3.4">x6</text></g>
<g id="q-x7" class="O" transform="translate(-127.4,-169.2)"><circle r="10.5"/><text y="3.4">x7</text></g>
<g id="q-x8" class="O" transform="translate(-91,-169.2)"><circle r="10.5"/><text y="3.4">x8</text></g>
<g id="q-x9" class="b" transform="translate(-54.6,-169.2)"><circle r="10.5"/><text y="3.4">x9</text></g>
<g id="q-x10" class="O" transform="translate(-18.2,-169.2)"><circle r="10.5"/><text y="3.4">x10</text></g>
<g id="q-x11" class="O" transform="translate(18.2,-169.2)"><circle r="10.5"/><text y="3.4">x11</text></g>
<g id="q-x12" class="O" transform="translate(54.6,-169.2)"><circle r="10.5"/><text y="3.4">x12</text></g>
<g id="q-x13" class="b" transform="translate(91,-169.2)"><circle r="10.5"/><text y="3.4">x13</text></g>
<g id="q-x14" class="O" transform="translate(127.4,-169.2)"><circle r="10.5"/><text y="3.4">x14</text></g>
</g>
<text class="cap" x="-5.5" y="57.5">(q)</text>
</g>

<g id="panel-r" transform="translate(784.3,1300.6)">
<g id="r-edges" class="edges">
<line x1="-8.3" y1="-6.43" x2="-64.5" y2="-49.97"/><line x1="8.3" y1="-6.43" x2="64.5" y2="-49.97"/>
<line x1="-78.49" y1="-65.22" x2="-103.51" y2="-103.98"/><line x1="-67.11" y1="-65.22" x2="-42.09" y2="-103.98"/>
<line x1="67.11" y1="-65.22" x2="42.09" y2="-103.98"/><line x1="78.49" y1="-65.22" x2="103.51" y2="-103.98"/>
<line x1="-112.42" y1="-122.79" x2="-124.18" y2="-159.21"/><line x1="-105.98" y1="-122.79" x2="-94.22" y2="-159.21"/>
<line x1="-39.62" y1="-122.79" x2="-51.38" y2="-159.21"/><line x1="-33.18" y1="-122.79" x2="-21.42" y2="-159.21"/>
<line x1="33.18" y1="-122.79" x2="21.42" y2="-159.21"/><line x1="39.62" y1="-122.79" x2="51.38" y2="-159.21"/>
<line x1="105.98" y1="-122.79" x2="94.22" y2="-159.21"/><line x1="112.42" y1="-122.79" x2="124.18" y2="-159.21"/>
</g>
<g class="nd">
<g id="r-x0" class="B" transform="translate(0,0)"><circle r="10.5"/><text y="3.4">x0</text></g>
<g id="r-x1" class="P" transform="translate(-72.8,-56.4)"><circle r="10.5"/><text y="3.4">x1</text></g>
<g id="r-x2" class="P" transform="translate(72.8,-56.4)"><circle r="10.5"/><text y="3.4">x2</text></g>
<g id="r-x3" class="O" transform="translate(-109.2,-112.8)"><circle r="10.5"/><text y="3.4">x3</text></g>
<g id="r-x4" class="N" transform="translate(-36.4,-112.8)"><circle r="10.5"/><text y="3.4">x4</text></g>
<g id="r-x5" class="O" transform="translate(36.4,-112.8)"><circle r="10.5"/><text y="3.4">x5</text></g>
<g id="r-x6" class="N" transform="translate(109.2,-112.8)"><circle r="10.5"/><text y="3.4">x6</text></g>
<g id="r-x7" class="O" transform="translate(-127.4,-169.2)"><circle r="10.5"/><text y="3.4">x7</text></g>
<g id="r-x8" class="O" transform="translate(-91,-169.2)"><circle r="10.5"/><text y="3.4">x8</text></g>
<g id="r-x9" class="b" transform="translate(-54.6,-169.2)"><circle r="10.5"/><text y="3.4">x9</text></g>
<g id="r-x10" class="O" transform="translate(-18.2,-169.2)"><circle r="10.5"/><text y="3.4">x10</text></g>
<g id="r-x11" class="O" transform="translate(18.2,-169.2)"><circle r="10.5"/><text y="3.4">x11</text></g>
<g id="r-x12" class="O" transform="translate(54.6,-169.2)"><circle r="10.5"/><text y="3.4">x12</text></g>
<g id="r-x13" class="b" transform="translate(91,-169.2)"><circle r="10.5"/><text y="3.4">x13</text></g>
<g id="r-x14" class="O" transform="translate(127.4,-169.2)"><circle r="10.5"/><text y="3.4">x14</text></g>
</g>
<text class="cap" x="-5.5" y="57.5">(r)</text>
</g>
</svg>
